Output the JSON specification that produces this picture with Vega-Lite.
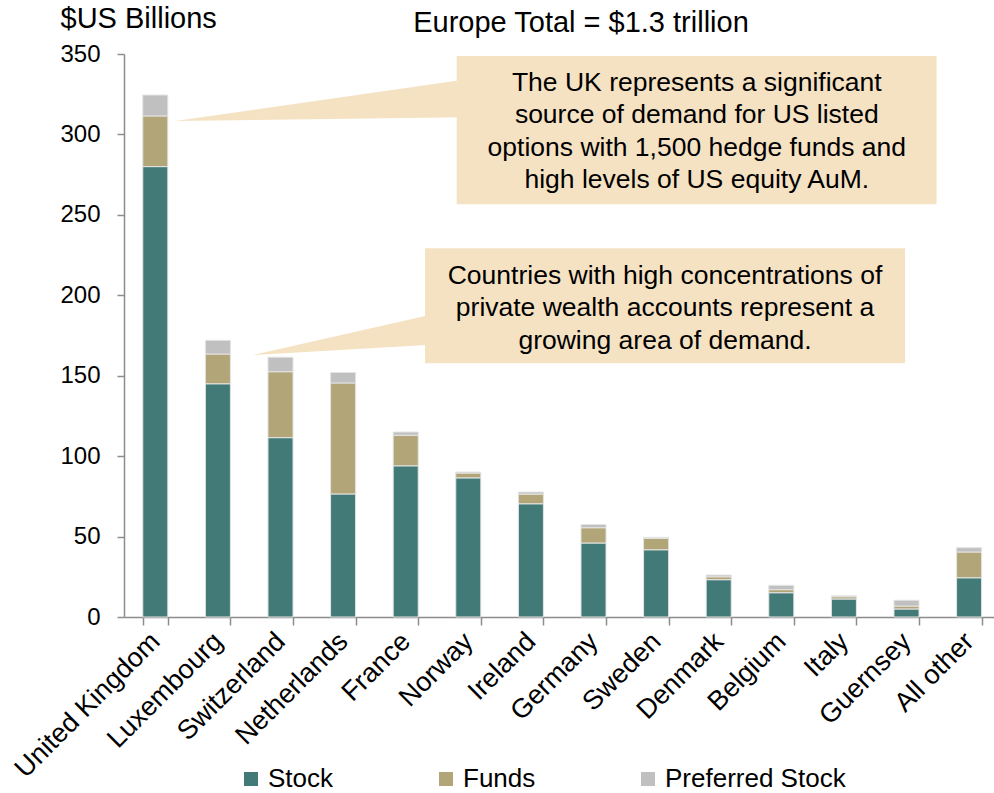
{
  "$schema": "https://vega.github.io/schema/vega-lite/v6.json",
  "width": 870,
  "height": 563,
  "autosize": "none",
  "padding": {"left": 124, "top": 54, "right": 0, "bottom": 176},
  "config": {
    "font": "Liberation Sans",
    "view": {"stroke": null},
    "axis": {"labelColor": "black", "labelFont": "Liberation Sans", "domainColor": "#8c8c8c", "tickColor": "#8c8c8c", "domainWidth": 1.5, "tickWidth": 1.5, "grid": false}
  },
  "title": {"text": "Europe Total = $1.3 trillion", "fontSize": 29, "fontWeight": "normal", "color": "black", "anchor": "middle", "frame": "group", "dx": 22, "dy": 79, "offset": 22, "baseline": "alphabetic"},
  "datasets": {
    "types": [
      {"type": "Stock", "rank": 1},
      {"type": "Funds", "rank": 2},
      {"type": "Preferred Stock", "rank": 3}
    ],
    "bars": [
      {"country": "United Kingdom", "type": "Stock", "value": 280},
      {"country": "United Kingdom", "type": "Funds", "value": 31.5},
      {"country": "United Kingdom", "type": "Preferred Stock", "value": 13},
      {"country": "Luxembourg", "type": "Stock", "value": 145},
      {"country": "Luxembourg", "type": "Funds", "value": 18.5},
      {"country": "Luxembourg", "type": "Preferred Stock", "value": 8.5},
      {"country": "Switzerland", "type": "Stock", "value": 111.5},
      {"country": "Switzerland", "type": "Funds", "value": 41},
      {"country": "Switzerland", "type": "Preferred Stock", "value": 9},
      {"country": "Netherlands", "type": "Stock", "value": 76.5},
      {"country": "Netherlands", "type": "Funds", "value": 69},
      {"country": "Netherlands", "type": "Preferred Stock", "value": 6.5},
      {"country": "France", "type": "Stock", "value": 94},
      {"country": "France", "type": "Funds", "value": 19},
      {"country": "France", "type": "Preferred Stock", "value": 2},
      {"country": "Norway", "type": "Stock", "value": 86.5},
      {"country": "Norway", "type": "Funds", "value": 3},
      {"country": "Norway", "type": "Preferred Stock", "value": 0.6},
      {"country": "Ireland", "type": "Stock", "value": 70.4},
      {"country": "Ireland", "type": "Funds", "value": 6},
      {"country": "Ireland", "type": "Preferred Stock", "value": 1.3},
      {"country": "Germany", "type": "Stock", "value": 46},
      {"country": "Germany", "type": "Funds", "value": 9.5},
      {"country": "Germany", "type": "Preferred Stock", "value": 2},
      {"country": "Sweden", "type": "Stock", "value": 41.8},
      {"country": "Sweden", "type": "Funds", "value": 7.1},
      {"country": "Sweden", "type": "Preferred Stock", "value": 0.6},
      {"country": "Denmark", "type": "Stock", "value": 23.2},
      {"country": "Denmark", "type": "Funds", "value": 1.8},
      {"country": "Denmark", "type": "Preferred Stock", "value": 1.1},
      {"country": "Belgium", "type": "Stock", "value": 15.1},
      {"country": "Belgium", "type": "Funds", "value": 1.9},
      {"country": "Belgium", "type": "Preferred Stock", "value": 2.7},
      {"country": "Italy", "type": "Stock", "value": 11.2},
      {"country": "Italy", "type": "Funds", "value": 1.4},
      {"country": "Italy", "type": "Preferred Stock", "value": 0.6},
      {"country": "Guernsey", "type": "Stock", "value": 5},
      {"country": "Guernsey", "type": "Funds", "value": 1.8},
      {"country": "Guernsey", "type": "Preferred Stock", "value": 3.6},
      {"country": "All other", "type": "Stock", "value": 24.4},
      {"country": "All other", "type": "Funds", "value": 16},
      {"country": "All other", "type": "Preferred Stock", "value": 2.7}
    ],
    "wedges": [
      {"id": "uk", "ux": 0.815, "top": 308.3, "bottom": 308.3},
      {"id": "uk", "ux": 5.45, "top": 334.1, "bottom": 310.7},
      {"id": "pw", "ux": 2.056, "top": 162.9, "bottom": 162.9},
      {"id": "pw", "ux": 4.9, "top": 187.9, "bottom": 169.3}
    ],
    "boxes": [
      {"ux1": 5.315, "ux2": 12.98, "top": 348.8, "bottom": 256.6},
      {"ux1": 4.808, "ux2": 12.476, "top": 229.2, "bottom": 157.7}
    ],
    "notes": [
      {"ux": 9.15, "v": 332.0, "note": "The UK represents a significant\nsource of demand for US listed\noptions with 1,500 hedge funds and\nhigh levels of US equity AuM."},
      {"ux": 8.642, "v": 212.0, "note": "Countries with high concentrations of\nprivate wealth accounts represent a\ngrowing area of demand."}
    ]
  },
  "layer": [
    {
      "data": {"name": "bars"},
      "transform": [{"lookup": "type", "from": {"data": {"name": "types"}, "key": "type", "fields": ["rank"]}}],
      "mark": {"type": "bar", "stroke": "#e4e4e4", "strokeWidth": 1},
      "encoding": {
        "x": {
          "field": "country", "type": "nominal", "sort": null,
          "scale": {"range": [0, 876.4], "paddingInner": 0.6, "paddingOuter": 0.3},
          "axis": {"title": null, "tickBand": "extent", "tickSize": 8, "labelAngle": -45, "labelAlign": "right", "labelBaseline": "middle", "labelFontSize": 27, "labelPadding": 12, "labelLimit": 400}
        },
        "y": {
          "field": "value", "type": "quantitative", "stack": "zero", "title": "$US Billions",
          "scale": {"domain": [0, 350], "nice": false},
          "axis": {"values": [0, 50, 100, 150, 200, 250, 300, 350], "tickSize": 7, "labelPadding": 17, "labelFontSize": 24, "titleAngle": 0, "titleAlign": "left", "titleBaseline": "alphabetic", "titleX": -64, "titleY": -27, "titleFontSize": 29, "titleFontWeight": "normal", "titleColor": "black"}
        },
        "color": {
          "field": "type", "type": "nominal",
          "scale": {"domain": ["Stock", "Funds", "Preferred Stock"], "range": ["#427A78", "#B2A577", "#C0C0C0"]},
          "legend": {"orient": "none", "legendX": 114, "legendY": 712, "direction": "horizontal", "columns": 3, "columnPadding": 99, "symbolType": "square", "symbolSize": 196, "symbolStrokeWidth": 0, "labelFontSize": 26, "labelOffset": 4, "labelLimit": 400, "labelColor": "black", "title": null, "padding": 0}
        },
        "order": {"field": "rank", "type": "quantitative", "sort": "ascending"}
      }
    },
    {
      "data": {"name": "wedges"},
      "mark": {"type": "area", "color": "#F5E2C3", "orient": "vertical"},
      "encoding": {
        "x": {"field": "ux", "type": "quantitative", "scale": {"domain": [0, 14], "range": [0, 876.4], "nice": false, "zero": false}, "axis": null},
        "y": {"field": "top", "type": "quantitative", "title": "$US Billions", "scale": {"domain": [0, 350], "nice": false}},
        "y2": {"field": "bottom"},
        "detail": {"field": "id"}
      }
    },
    {
      "data": {"name": "boxes"},
      "mark": {"type": "rect", "color": "#F5E2C3"},
      "encoding": {
        "x": {"field": "ux1", "type": "quantitative", "scale": {"domain": [0, 14], "range": [0, 876.4], "nice": false, "zero": false}, "axis": null},
        "x2": {"field": "ux2"},
        "y": {"field": "top", "type": "quantitative", "title": "$US Billions", "scale": {"domain": [0, 350], "nice": false}},
        "y2": {"field": "bottom"}
      }
    },
    {
      "data": {"name": "notes"},
      "mark": {"type": "text", "fontSize": 26.5, "align": "center", "baseline": "middle", "lineBreak": "\n", "lineHeight": 32.5, "color": "black"},
      "encoding": {
        "x": {"field": "ux", "type": "quantitative", "scale": {"domain": [0, 14], "range": [0, 876.4], "nice": false, "zero": false}, "axis": null},
        "y": {"field": "v", "type": "quantitative", "title": "$US Billions", "scale": {"domain": [0, 350], "nice": false}},
        "text": {"field": "note"}
      }
    }
  ],
  "resolve": {"scale": {"x": "independent"}}
}
